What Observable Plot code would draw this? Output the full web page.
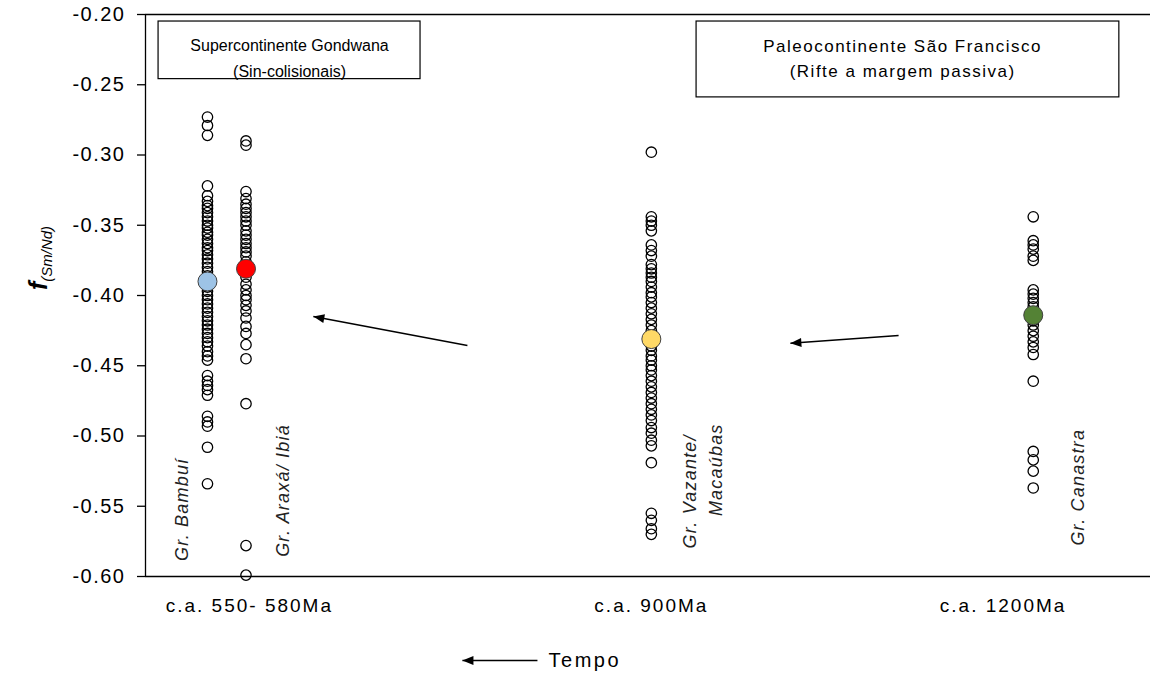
<!DOCTYPE html>
<html><head><meta charset="utf-8">
<script src="https://cdn.jsdelivr.net/npm/d3@7"></script>
<script src="https://cdn.jsdelivr.net/npm/@observablehq/plot@0.6"></script>
<style>
body{margin:0;background:#fff;}
#chart svg{font-family:"Liberation Sans",Arial,sans-serif;}
g[aria-label="y-axis tick label"] text{letter-spacing:1.5px;}
g[aria-label="x-axis tick label"] text{letter-spacing:2px;}
</style>
</head><body><div id="chart"></div>
<script>
// ---- data ----
const groups = ["Gr. Bambuí", "Gr. Araxá/ Ibiá", "Gr. Vazante/ Macaúbas", "Gr. Canastra"];
const groupX = [0.185, 0.30, 1.51, 2.65];
const bambui = [-0.273,-0.279,-0.286,-0.322,-0.329,-0.333,-0.336,-0.338,-0.341,-0.344,-0.347,-0.350,-0.352,-0.355,-0.357,-0.360,-0.363,-0.366,-0.368,-0.371,-0.374,-0.377,-0.380,-0.383,-0.386,-0.394,-0.397,-0.400,-0.403,-0.406,-0.409,-0.412,-0.415,-0.418,-0.421,-0.424,-0.427,-0.430,-0.433,-0.436,-0.440,-0.443,-0.446,-0.457,-0.461,-0.464,-0.467,-0.471,-0.486,-0.490,-0.493,-0.508,-0.534];
const araxa = [-0.290,-0.293,-0.326,-0.331,-0.335,-0.338,-0.341,-0.344,-0.347,-0.350,-0.354,-0.357,-0.360,-0.363,-0.366,-0.369,-0.372,-0.376,-0.387,-0.392,-0.396,-0.400,-0.403,-0.407,-0.411,-0.416,-0.422,-0.427,-0.435,-0.445,-0.477,-0.578,-0.599];
const vazante = [-0.298,-0.344,-0.347,-0.350,-0.354,-0.364,-0.368,-0.372,-0.378,-0.381,-0.384,-0.387,-0.390,-0.394,-0.398,-0.401,-0.405,-0.409,-0.413,-0.417,-0.421,-0.425,-0.436,-0.439,-0.443,-0.446,-0.450,-0.453,-0.457,-0.461,-0.465,-0.469,-0.473,-0.477,-0.481,-0.485,-0.489,-0.494,-0.498,-0.503,-0.507,-0.519,-0.555,-0.560,-0.566,-0.570];
const canastra = [-0.344,-0.361,-0.364,-0.367,-0.372,-0.375,-0.396,-0.399,-0.402,-0.405,-0.408,-0.418,-0.421,-0.425,-0.429,-0.433,-0.437,-0.442,-0.461,-0.511,-0.517,-0.525,-0.537];
const means = [-0.390, -0.381, -0.431, -0.414];
const meanColors = ["#9DC3E6", "#FF0000", "#FFD966", "#548235"];
const xTicks = [0.31, 1.51, 2.56];
const xTickLabels = ["c.a. 550- 580Ma", "c.a. 900Ma", "c.a. 1200Ma"];
const yTicks = [-0.60, -0.55, -0.50, -0.45, -0.40, -0.35, -0.30, -0.25, -0.20];

// annotations (data units)
const labelText = ["Gr. Bambuí", "Gr. Araxá/ Ibiá", "Gr. Vazante/", "Macaúbas", "Gr. Canastra"];
const labelX = [0.11, 0.412, 1.627, 1.704, 2.785];
const labelY = [-0.589, -0.586, -0.580, -0.557, -0.578];
const boxTitles = [["Supercontinente Gondwana", "(Sin-colisionais)"], ["Paleocontinente São Francisco", "(Rifte a margem passiva)"]];
const boxX1 = [0.039, 1.645], boxX2 = [0.821, 2.907];
const boxY1 = [-0.205, -0.205], boxY2 = [-0.246, -0.259];
const boxCX = [0.43, 2.26];
const lineY = [-0.2225, -0.2405];
const arrowX1 = [0.961, 2.248, 1.170], arrowY1 = [-0.4356, -0.4285, -0.6598];
const arrowX2 = [0.501, 1.925, 0.946], arrowY2 = [-0.415, -0.434, -0.6598];
const tempoLabel = "Tempo";

// ---- tables ----
const series = [bambui, araxa, vazante, canastra];
const points = series.flatMap((vals, i) => vals.map(v => ({x: groupX[i], v})));
const meanRows = means.map((m, i) => ({x: groupX[i], v: m, c: meanColors[i]}));
const labels = labelText.map((t, i) => ({t, x: labelX[i], y: labelY[i]}));
const boxes = boxX1.map((x1, i) => ({x1, x2: boxX2[i], y1: boxY1[i], y2: boxY2[i]}));
const boxLines = boxTitles.flatMap((lines, i) => lines.map((t, j) => ({t, x: boxCX[i], y: lineY[j], box: i})));
const arrows = arrowX1.map((x1, i) => ({x1, y1: arrowY1[i], x2: arrowX2[i], y2: arrowY2[i]}));

const chart = Plot.plot({
  width: 1154, height: 673,
  marginTop: 14, marginBottom: 97, marginLeft: 145, marginRight: 4,
  x: {domain: [0, 3], axis: null},
  y: {domain: [-0.60, -0.20]},
  color: {type: "identity"},
  style: {fontFamily: '"Liberation Sans", Arial, sans-serif', fontSize: "18px", color: "#000", background: "#fff", overflow: "visible"},
  marks: [
    Plot.axisY({ticks: yTicks, tickFormat: d => d.toFixed(2), tickSize: 8, tickPadding: 12, fontSize: 20, label: null, stroke: "#000", strokeWidth: 1.3}),
    Plot.axisX({ticks: xTicks, tickFormat: d => xTickLabels[xTicks.indexOf(d)], tickSize: 0, tickPadding: 22, fontSize: 19, label: null}),
    Plot.ruleX([0], {stroke: "#000", strokeWidth: 1.3}),
    Plot.ruleY([-0.60, -0.20], {stroke: "#000", strokeWidth: 1.3}),
    Plot.rect(boxes, {x1: "x1", x2: "x2", y1: "y1", y2: "y2", fill: "#fff", stroke: "#000", strokeWidth: 1.2}),
    Plot.text(boxLines.filter(d => d.box === 0), {x: "x", y: "y", text: "t", fontSize: 16, fill: "#000"}),
    Plot.text(boxLines.filter(d => d.box === 1), {x: "x", y: "y", text: "t", fontSize: 17, fill: "#000", className: "wide"}),
    Plot.dot(points, {x: "x", y: "v", r: 5.2, stroke: "#000", strokeWidth: 1.3, fill: "none"}),
    Plot.dot(meanRows, {x: "x", y: "v", r: 9.5, fill: "c", stroke: "#404040", strokeWidth: 1}),
    Plot.link(arrows, {x1: "x1", y1: "y1", x2: "x2", y2: "y2", stroke: "#000", strokeWidth: 1.5}),
    Plot.text(labels, {x: "x", y: "y", text: "t", rotate: -90, textAnchor: "start", fontSize: 18, fontStyle: "italic", fill: "#222", className: "grp"}),
    Plot.text([tempoLabel], {x: arrowX1[2] + 0.033, y: arrowY1[2], text: d => d, textAnchor: "start", fontSize: 20, fill: "#000", className: "tempo"})
  ]
});
document.getElementById("chart").append(chart);

const svg = d3.select(chart);
svg.selectAll(".wide text").style("letter-spacing", "1.5px");
svg.selectAll(".grp text").style("letter-spacing", "1.2px");
svg.selectAll(".tempo text").style("letter-spacing", "2.5px");

// filled arrowheads on the link mark
const defs = svg.insert("defs", ":first-child");
defs.append("marker").attr("id", "tri").attr("viewBox", "-12 -6 12 12")
  .attr("markerWidth", 12).attr("markerHeight", 12).attr("markerUnits", "userSpaceOnUse")
  .attr("refX", 0).attr("refY", 0).attr("orient", "auto")
  .append("path").attr("d", "M0,0L-11,-4.5L-11,4.5Z").attr("fill", "#000");
svg.selectAll('g[aria-label="link"] path').attr("marker-end", "url(#tri)");

// y-axis title f(Sm/Nd)
const yt = svg.append("text").attr("transform", "translate(47,258) rotate(-90)").attr("text-anchor", "middle").attr("fill", "#000");
yt.append("tspan").text("f").attr("font-size", 25).attr("font-weight", "bold").attr("font-style", "italic");
yt.append("tspan").text("(Sm/Nd)").attr("font-size", 15).attr("font-style", "italic").attr("dy", 5);
</script>
</body></html>
